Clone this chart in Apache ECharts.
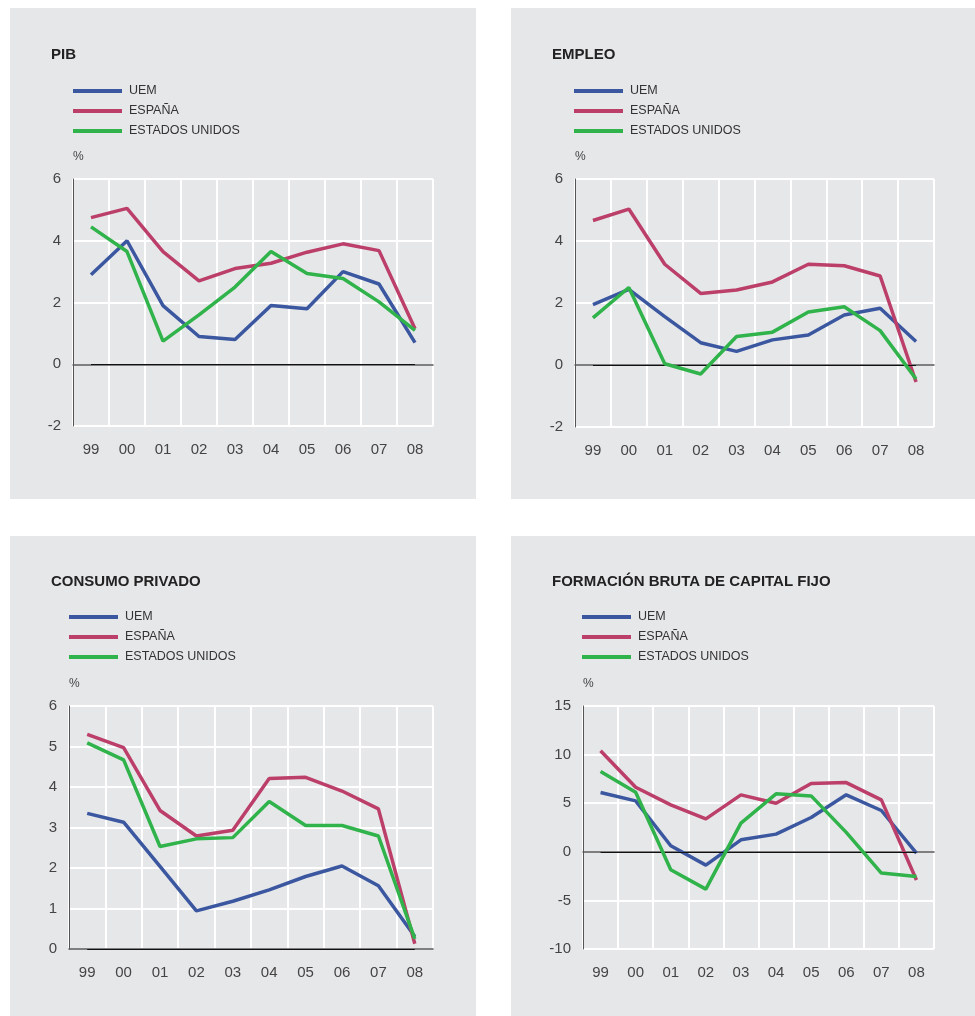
<!DOCTYPE html>
<html>
<head>
<meta charset="utf-8">
<script src="https://cdn.jsdelivr.net/npm/echarts@6/dist/echarts.min.js"></script>
<style>
html,body{margin:0;padding:0;background:#fff;}
#c{width:975px;height:1016px;}
</style>
</head>
<body>
<div id="c"></div>
<script>
const years = ['99','00','01','02','03','04','05','06','07','08'];
const seriesNames = ['UEM','ESPAÑA','ESTADOS UNIDOS'];
const titles = ['PIB','EMPLEO','CONSUMO PRIVADO','FORMACIÓN BRUTA DE CAPITAL FIJO'];

// PIB
const pibUEM    = [2.9, 4.0, 1.9, 0.9, 0.8, 1.9, 1.8, 3.0, 2.6, 0.7];
const pibESP    = [4.75, 5.05, 3.65, 2.7, 3.1, 3.27, 3.63, 3.9, 3.68, 1.15];
const pibUSA    = [4.45, 3.65, 0.75, 1.6, 2.5, 3.65, 2.94, 2.78, 2.02, 1.1];
// EMPLEO
const empUEM    = [1.95, 2.44, 1.56, 0.72, 0.44, 0.81, 0.97, 1.61, 1.83, 0.76];
const empESP    = [4.66, 5.03, 3.25, 2.31, 2.42, 2.68, 3.25, 3.2, 2.87, -0.55];
const empUSA    = [1.52, 2.5, 0.04, -0.29, 0.92, 1.06, 1.71, 1.88, 1.11, -0.45];
// CONSUMO PRIVADO
const conUEM    = [3.35, 3.13, 2.04, 0.94, 1.18, 1.46, 1.79, 2.05, 1.56, 0.31];
const conESP    = [5.3, 4.97, 3.42, 2.79, 2.93, 4.21, 4.24, 3.9, 3.46, 0.13];
const conUSA    = [5.09, 4.67, 2.53, 2.72, 2.75, 3.64, 3.05, 3.05, 2.79, 0.25];
// FBCF
const fbUEM     = [6.1, 5.24, 0.62, -1.37, 1.23, 1.82, 3.53, 5.86, 4.25, -0.14];
const fbESP     = [10.4, 6.64, 4.83, 3.39, 5.86, 5.0, 7.02, 7.12, 5.34, -2.9];
const fbUSA     = [8.25, 6.13, -1.85, -3.84, 2.95, 5.96, 5.75, 2.0, -2.19, -2.53];

const yMin = [-2, -2, 0, -10];
const yMax = [6, 6, 6, 15];
const yInt = [2, 2, 1, 5];

const panelData = [
  [pibUEM, pibESP, pibUSA],
  [empUEM, empESP, empUSA],
  [conUEM, conESP, conUSA],
  [fbUEM, fbESP, fbUSA]
];

const colors = ['#3a57a0', '#bb3f68', '#30b34a'];
const FONT = '"Liberation Sans", Arial, Helvetica, sans-serif';

// layout
const panels = [
  {x:10, y:8, w:466, h:491},
  {x:511, y:8, w:464, h:491},
  {x:10, y:536, w:466, h:480},
  {x:511, y:536, w:464, h:480}
];
const grids = [
  {left:73, top:179, width:360, height:247},
  {left:575, top:179, width:359, height:248},
  {left:69, top:706, width:364, height:243},
  {left:583, top:706, width:351, height:243}
];
const titlePos = [[51,47],[552,47],[51,574],[552,574]];
const legendPos = [[73,84],[574,84],[69,610],[582,610]];

const option = {
  backgroundColor: '#ffffff',
  animation: false,
  textStyle: {fontFamily: FONT},
  graphic: panels.map(p => ({
    type: 'rect', z: -100, silent: true,
    shape: {x:p.x, y:p.y, width:p.w, height:p.h},
    style: {fill: '#e6e7e9'}
  })),
  title: titles.map((t,i) => ({
    text: t, left: titlePos[i][0], top: titlePos[i][1], padding: 0,
    textStyle: {fontFamily: FONT, fontSize: 15, fontWeight: 'bold', color: '#222'}
  })),
  legend: legendPos.map((p,i) => ({
    orient: 'vertical', left: p[0], top: p[1], padding: 0,
    itemWidth: 49, itemHeight: 4, itemGap: 6,
    icon: 'rect',
    data: seriesNames,
    textStyle: {fontFamily: FONT, fontSize: 12.5, color: '#333', lineHeight: 14, padding: [0,0,0,2]}
  })),
  grid: grids.map(g => Object.assign({containLabel:false}, g)),
  xAxis: grids.map((g,i) => ({
    type: 'category', gridIndex: i, data: years, boundaryGap: true,
    axisLine: {show: true, lineStyle: {color: '#555', width: 1.5}},
    axisTick: {show: false},
    axisLabel: {fontFamily: FONT, fontSize: 15, color: '#444', margin: 16},
    splitLine: {show: true, lineStyle: {color: '#ffffff', width: 2}}
  })),
  yAxis: grids.map((g,i) => ({
    type: 'value', gridIndex: i, min: yMin[i], max: yMax[i], interval: yInt[i],
    name: '%', nameLocation: 'end', nameGap: 16,
    nameTextStyle: {fontFamily: FONT, fontSize: 12, color: '#444', align: 'left'},
    axisLine: {show: true, lineStyle: {color: '#555', width: 1}},
    axisTick: {show: false},
    axisLabel: {fontFamily: FONT, fontSize: 15, color: '#444', margin: 12},
    splitLine: {show: true, lineStyle: {color: '#ffffff', width: 2}}
  })),
  series: []
};

panelData.forEach((arrs, gi) => {
  arrs.forEach((vals, si) => {
    const s = {
      type: 'line', name: seriesNames[si], xAxisIndex: gi, yAxisIndex: gi,
      data: vals, symbol: 'none', smooth: false,
      lineStyle: {color: colors[si], width: 3.5},
      itemStyle: {color: colors[si]},
      z: 3 + si
    };
    if (si === 0) {
      s.markLine = {
        silent: true, symbol: 'none', animation: false,
        label: {show: false},
        lineStyle: {color: '#111', width: 1, type: 'solid'},
        data: [[{coord: [years[0], 0]}, {coord: [years[years.length-1], 0]}]]
      };
    }
    option.series.push(s);
  });
});

const chart = echarts.init(document.getElementById('c'), null, {renderer: 'canvas'});
chart.setOption(option);
</script>
</body>
</html>
